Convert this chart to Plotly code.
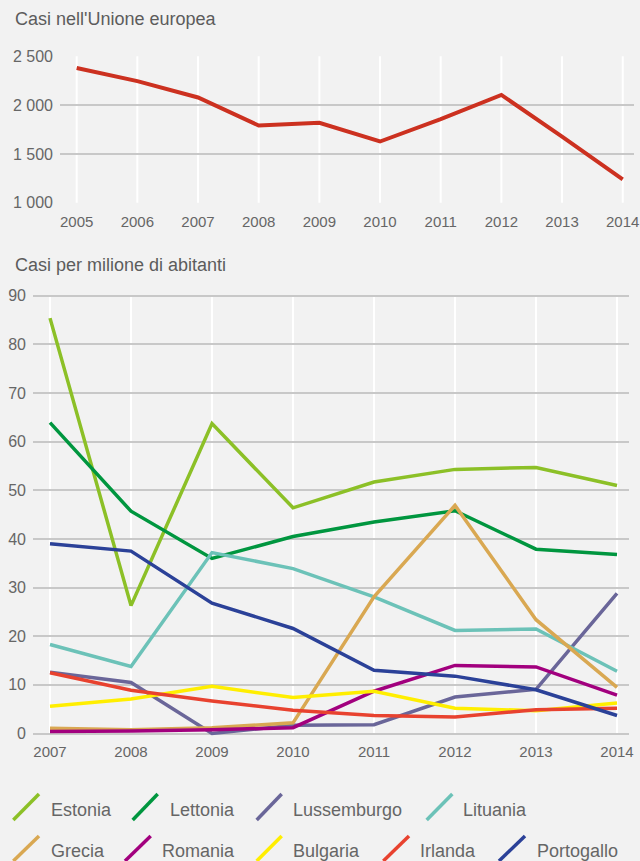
import plotly.graph_objects as go

W, H = 640, 861

# EU-wide cases per year
eu_years = list(range(2005, 2015))
eu_cases = [2380, 2245, 2078, 1791, 1818, 1627, 1856, 2104, 1677, 1240]
eu_ticks = [1000, 1500, 2000, 2500]
eu_ticktext = ["1 000", "1 500", "2 000", "2 500"]

# Cases per million inhabitants, by country
years = list(range(2007, 2015))
countries = ["Estonia", "Lettonia", "Lussemburgo", "Lituania",
             "Grecia", "Romania", "Bulgaria", "Irlanda", "Portogallo"]
estonia = [85.4, 26.3, 63.7, 46.4, 51.7, 54.3, 54.7, 51.0]
lettonia = [63.9, 45.7, 36.0, 40.5, 43.5, 45.8, 37.9, 36.8]
lussemburgo = [12.6, 10.5, 0.0, 1.7, 1.8, 7.5, 9.1, 28.8]
lituania = [18.3, 13.8, 37.2, 33.9, 28.1, 21.2, 21.5, 12.8]
grecia = [1.1, 0.8, 1.2, 2.2, 28.1, 46.9, 23.4, 9.5]
romania = [0.4, 0.5, 0.8, 1.2, 8.7, 14.0, 13.7, 7.9]
bulgaria = [5.6, 7.1, 9.7, 7.4, 8.7, 5.2, 4.7, 6.3]
irlanda = [12.5, 8.9, 6.7, 4.8, 3.7, 3.4, 4.9, 5.2]
portogallo = [39.0, 37.5, 26.8, 21.6, 13.0, 11.8, 9.0, 3.7]
series = [estonia, lettonia, lussemburgo, lituania, grecia,
          romania, bulgaria, irlanda, portogallo]
colors = ["#8cc027", "#00963f", "#6a6699", "#6cc2b8", "#d9a852",
          "#a2007e", "#ffee00", "#e8422f", "#2b4198"]
rate_ticks = list(range(0, 100, 10))

BG = "#f2f2f2"
GRID = "#c8c8c8"
TXT = "#666666"
FONT = "Liberation Sans, Arial, sans-serif"


def px(x):
    return x / W


def py(y):
    return 1 - y / H


fig = go.Figure()

fig.add_trace(go.Scatter(x=eu_years, y=eu_cases, mode="lines",
                         line=dict(color="#cc3120", width=4),
                         xaxis="x", yaxis="y", showlegend=False,
                         hoverinfo="x+y"))

for name, vals, col in zip(countries, series, colors):
    fig.add_trace(go.Scatter(x=years, y=vals, mode="lines", name=name,
                             line=dict(color=col, width=3.5),
                             xaxis="x2", yaxis="y2", showlegend=False))

# white vertical year lines
for yr in eu_years:
    fig.add_shape(type="line", xref="x", yref="y", x0=yr, x1=yr,
                  y0=eu_ticks[0], y1=eu_ticks[-1],
                  line=dict(color="white", width=2), layer="below")
for yr in years:
    fig.add_shape(type="line", xref="x2", yref="y2", x0=yr, x1=yr,
                  y0=rate_ticks[0], y1=rate_ticks[-1],
                  line=dict(color="white", width=2), layer="below")

# legend: slanted swatches with labels
legend_pos = [
    (13.3, 39.0, 820, 794, 48.7, 810),
    (132.7, 157.7, 820, 794, 168, 810),
    (256.7, 281.7, 820, 794, 291, 810),
    (426.7, 452.3, 820, 794, 461.3, 810),
    (13.3, 39.0, 861, 836, 48.7, 851),
    (125.0, 150.7, 861, 836, 160.3, 851),
    (256.7, 281.7, 861, 836, 291, 851),
    (383.3, 409.0, 861, 836, 418, 851),
    (499.0, 525.0, 861, 836, 534.7, 851),
]
for (x0, x1, y0, y1, tx, ty), name, col in zip(legend_pos, countries, colors):
    fig.add_shape(type="line", xref="paper", yref="paper",
                  x0=px(x0), x1=px(x1), y0=py(y0), y1=py(y1),
                  line=dict(color=col, width=3.5))
    fig.add_annotation(xref="paper", yref="paper", x=px(tx), y=py(ty),
                       text=name, showarrow=False, xanchor="left",
                       yanchor="middle",
                       font=dict(family=FONT, size=18, color=TXT))

fig.add_annotation(xref="paper", yref="paper", x=px(12.5), y=py(18.5),
                   text="Casi nell'Unione europea", showarrow=False,
                   xanchor="left", yanchor="middle",
                   font=dict(family=FONT, size=18, color="#5c5c5c"))
fig.add_annotation(xref="paper", yref="paper", x=px(12.5), y=py(265),
                   text="Casi per milione di abitanti", showarrow=False,
                   xanchor="left", yanchor="middle",
                   font=dict(family=FONT, size=18, color="#5c5c5c"))

fig.update_layout(
    width=W, height=H,
    margin=dict(l=0, r=0, t=0, b=0),
    paper_bgcolor=BG, plot_bgcolor=BG,
    font=dict(family=FONT, color=TXT),
    xaxis=dict(domain=[px(60), px(634)], range=[2004.725, 2014.186],
               tickvals=eu_years, showgrid=False, zeroline=False,
               ticks="", tickfont=dict(size=15, color=TXT),
               anchor="y", automargin=False, ticklabelstandoff=7),
    yaxis=dict(domain=[py(203.7), py(55.3)], range=[990, 2510],
               tickvals=eu_ticks, ticktext=eu_ticktext,
               showgrid=True, gridcolor=GRID, gridwidth=2, zeroline=False,
               ticks="", tickfont=dict(size=16, color=TXT),
               anchor="x", automargin=False, ticklabelstandoff=6),
    xaxis2=dict(domain=[px(33), px(629)], range=[2006.79, 2014.148],
                tickvals=years, showgrid=False, zeroline=False,
                ticks="", tickfont=dict(size=15, color=TXT),
                anchor="y2", automargin=False, ticklabelstandoff=3),
    yaxis2=dict(domain=[py(738.4), py(292.8)], range=[-1, 90.6],
                tickvals=rate_ticks, showgrid=True, gridcolor=GRID,
                gridwidth=2, zeroline=False, ticks="",
                tickfont=dict(size=16, color=TXT),
                anchor="x2", automargin=False, ticklabelstandoff=6),
)

fig.write_html("out.html")
